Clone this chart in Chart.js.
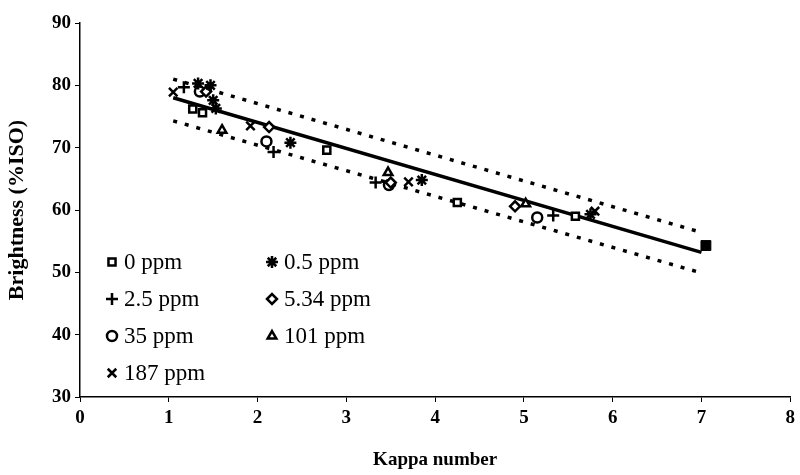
<!DOCTYPE html>
<html>
<head>
<meta charset="utf-8">
<script src="https://cdn.jsdelivr.net/npm/chart.js@4/dist/chart.umd.min.js"></script>
<style>
  body { margin: 0; background: #fff; }
  #wrap { width: 800px; height: 475px; }
</style>
</head>
<body>
<div id="wrap"><canvas id="chart"></canvas></div>
<script>
// values (x = Kappa number, y = Brightness %ISO)
const ppm0X = [1.27, 1.38, 2.78, 4.25, 5.58];
const ppm0Y = [76.2, 75.6, 69.6, 61.2, 59.0];
const ppm05X = [1.33, 1.47, 1.5, 1.53, 2.37, 3.85, 5.75];
const ppm05Y = [80.3, 80.0, 77.6, 76.3, 70.8, 64.8, 59.3];
const ppm25X = [1.17, 2.18, 3.33, 5.33];
const ppm25Y = [79.7, 69.3, 64.4, 59.1];
const ppm534X = [1.42, 2.13, 3.5, 4.9];
const ppm534Y = [79.0, 73.3, 64.4, 60.6];
const ppm35X = [1.35, 2.1, 3.48, 5.15];
const ppm35Y = [79.0, 71.0, 64.0, 58.8];
const ppm101X = [1.6, 3.47, 5.02];
const ppm101Y = [72.8, 66.0, 61.0];
const ppm187X = [1.05, 1.92, 3.7, 5.8];
const ppm187Y = [78.9, 73.5, 64.5, 59.8];
const endX = [7.05];
const endY = [54.3];

const fitX = [1.05, 7.0];
const fitY = [78.0, 53.2];
const upperY = [81.0, 56.4];
const lowerY = [74.3, 49.9];

const xTicks = [0, 1, 2, 3, 4, 5, 6, 7, 8];
const yTicks = [30, 40, 50, 60, 70, 80, 90];

const series = [
  { label: '0 ppm', x: ppm0X, y: ppm0Y, style: 'rect', radius: 5 },
  { label: '0.5 ppm', x: ppm05X, y: ppm05Y, style: 'star', radius: 6 },
  { label: '2.5 ppm', x: ppm25X, y: ppm25Y, style: 'cross', radius: 6 },
  { label: '5.34 ppm', x: ppm534X, y: ppm534Y, style: 'rectRot', radius: 5 },
  { label: '35 ppm', x: ppm35X, y: ppm35Y, style: 'circle', radius: 5 },
  { label: '101 ppm', x: ppm101X, y: ppm101Y, style: 'triangle', radius: 5 },
  { label: '187 ppm', x: ppm187X, y: ppm187Y, style: 'crossRot', radius: 6 }
];

const toPoints = (xs, ys) => xs.map((x, i) => ({ x, y: ys[i] }));

const datasets = series.map(s => ({
  type: 'scatter',
  label: s.label,
  data: toPoints(s.x, s.y),
  pointStyle: s.style,
  pointRadius: s.radius,
  pointBorderWidth: 2.5,
  pointBorderColor: '#000',
  pointBackgroundColor: '#fff',
  showLine: false
}));

datasets.push({
  type: 'scatter', label: 'end', data: toPoints(endX, endY),
  pointStyle: 'rect', pointRadius: 7, pointBorderColor: '#000',
  pointBackgroundColor: '#000', showLine: false
});
datasets.push({
  type: 'line', label: 'fit', data: toPoints(fitX, fitY),
  borderColor: '#000', borderWidth: 3.5, pointRadius: 0
});
datasets.push({
  type: 'line', label: 'upper', data: toPoints(fitX, upperY),
  borderColor: '#000', borderWidth: 3.5, borderDash: [4, 8], pointRadius: 0
});
datasets.push({
  type: 'line', label: 'lower', data: toPoints(fitX, lowerY),
  borderColor: '#000', borderWidth: 3.5, borderDash: [4, 8], pointRadius: 0
});

// legend inside the plot, two columns
const legendBox = {
  id: 'legendBox',
  afterDraw(chart) {
    const ctx = chart.ctx;
    const cols = [112, 272];
    const rows = [262, 299, 336, 373];
    ctx.save();
    ctx.font = '23px "Liberation Serif", "Times New Roman", serif';
    ctx.textBaseline = 'middle';
    series.forEach((s, i) => {
      const px = cols[i % 2];
      const py = rows[Math.floor(i / 2)];
      ctx.fillStyle = '#fff';
      ctx.strokeStyle = '#000';
      ctx.lineWidth = 2.5;
      Chart.helpers.drawPoint(ctx, {
        pointStyle: s.style, radius: s.radius, borderWidth: 2.5, rotation: 0
      }, px, py);
      ctx.fillStyle = '#000';
      ctx.fillText(s.label, px + 12, py + 1);
    });
    ctx.restore();
  }
};

const chart = new Chart(document.getElementById('chart'), {
  type: 'scatter',
  data: { datasets },
  options: {
    responsive: true,
    maintainAspectRatio: false,
    animation: false,
    layout: { padding: { top: 23, right: 3, left: 0, bottom: 0 } },
    elements: { point: { borderColor: '#000', backgroundColor: '#fff' } },
    plugins: { legend: { display: false }, tooltip: { enabled: false } },
    scales: {
      x: {
        type: 'linear', min: 0, max: 8,
        afterBuildTicks: s => { s.ticks = xTicks.map(v => ({ value: v })); },
        afterFit: s => { s.height = 78; },
        grid: { display: true, drawOnChartArea: false, color: '#000', tickLength: 5 },
        border: { color: '#000', width: 1.5 },
        ticks: {
          color: '#000', padding: 5,
          font: { family: '"Liberation Serif", serif', size: 19, weight: 'bold' }
        },
        title: {
          display: true, text: 'Kappa number', color: '#000', padding: { top: 8 },
          font: { family: '"Liberation Serif", serif', size: 19, weight: 'bold' }
        }
      },
      y: {
        type: 'linear', min: 30, max: 90,
        afterBuildTicks: s => { s.ticks = yTicks.map(v => ({ value: v })); },
        afterFit: s => { s.width = 80; },
        grid: { display: true, drawOnChartArea: false, color: '#000', tickLength: 5 },
        border: { color: '#000', width: 1.5 },
        ticks: {
          color: '#000', padding: 4,
          font: { family: '"Liberation Serif", serif', size: 19, weight: 'bold' }
        },
        title: {
          display: true, text: 'Brightness (%ISO)', color: '#000', padding: { bottom: 4 },
          font: { family: '"Liberation Serif", serif', size: 22, weight: 'bold' }
        }
      }
    }
  },
  plugins: [legendBox]
});
</script>
</body>
</html>
